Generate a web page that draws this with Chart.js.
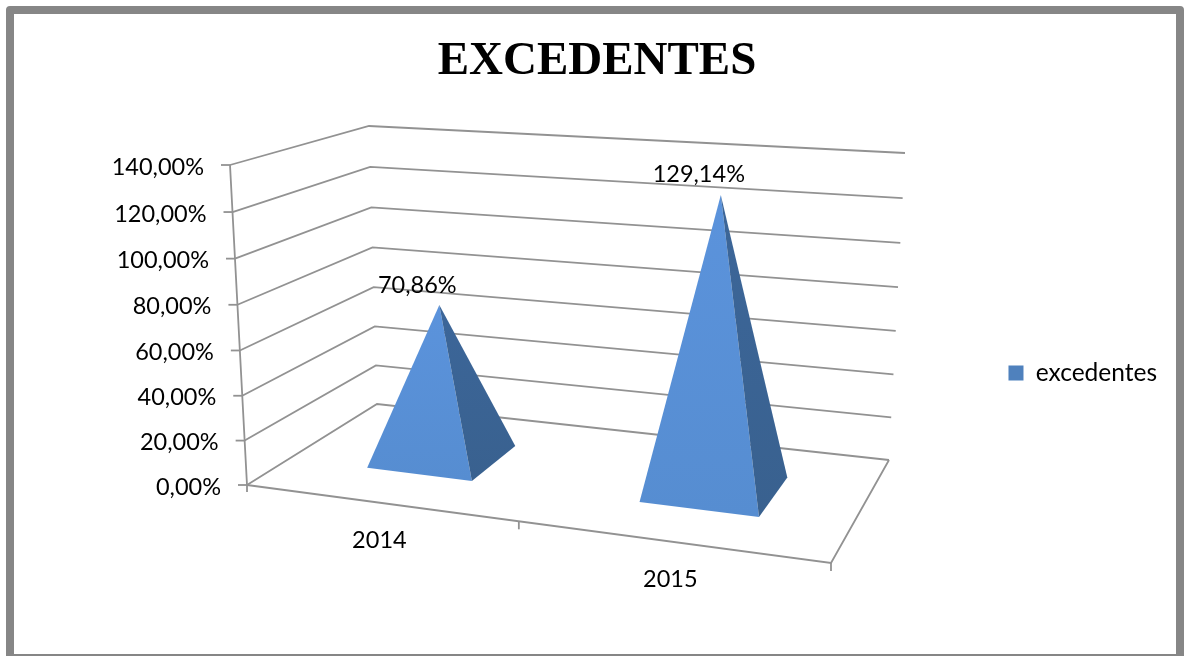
<!DOCTYPE html>
<html>
<head>
<meta charset="utf-8">
<style>
html,body{margin:0;padding:0;background:#fff}
#wrap{width:1184px;height:656px;position:relative}
</style>
</head>
<body>
<div id="wrap"><canvas id="chart"></canvas></div>
<script src="https://cdn.jsdelivr.net/npm/chart.js@4/dist/chart.umd.js"></script>
<script>
const categories=["2014","2015"]
const seriesName="excedentes"
const values=[70.86,129.14]
const valueLabels=["70,86%","129,14%"]
const tickLabels=["0,00%","20,00%","40,00%","60,00%","80,00%","100,00%","120,00%","140,00%"]

const FONT="Lato"
const LABEL_FONT="23.5px "+FONT
const LINE="#929292"

// corners of the 3d box on screen: floor and top, front-left/front-right/back-right/back-left
const floorQuad=[[247,485],[831,563],[889,460],[377,404]]
const topQuad=[[230,165],[870,214],[905,153],[369,126]]

function quadMap(q){
const [x0,y0]=q[0],[x1,y1]=q[1],[x2,y2]=q[2],[x3,y3]=q[3]
const dx1=x1-x2,dx2=x3-x2,sx=x0-x1+x2-x3
const dy1=y1-y2,dy2=y3-y2,sy=y0-y1+y2-y3
const den=dx1*dy2-dx2*dy1
const g=(sx*dy2-dx2*sy)/den,h=(dx1*sy-sx*dy1)/den
const a=x1-x0+g*x1,b=x3-x0+h*x3,d=y1-y0+g*y1,e=y3-y0+h*y3
return (u,w)=>{
const k=g*u+h*w+1
return [(a*u+b*w+x0)/k,(d*u+e*w+y0)/k]
}
}
const floorAt=quadMap(floorQuad)
const topAt=quadMap(topQuad)

// u along categories, w into the depth, t height 0..1
function project(u,w,t){
const f=floorAt(u,w),p=topAt(u,w)
const s=0.967*t/(1-0.033*t)
return [f[0]+(p[0]-f[0])*s,f[1]+(p[1]-f[1])*s]
}

function path(ctx,pts,color){
ctx.beginPath()
pts.forEach((p,i)=>i?ctx.lineTo(p[0],p[1]):ctx.moveTo(p[0],p[1]))
ctx.closePath()
ctx.fillStyle=color
ctx.fill()
}

function polyline(ctx,pts){
ctx.beginPath()
pts.forEach((p,i)=>i?ctx.lineTo(p[0],p[1]):ctx.moveTo(p[0],p[1]))
ctx.stroke()
}

const box3d={
id:"box3d",
afterLayout(chart){
// legend sits lower than the centre of the page in the original
const l=chart.legend
const shift=373-(l.top+l.bottom)/2
l.top+=shift
l.bottom+=shift
},
beforeDraw(chart){
const ctx=chart.ctx
ctx.save()
ctx.strokeStyle="#868686"
ctx.lineWidth=8
ctx.lineJoin="round"
ctx.strokeRect(10,10,1170,700)
ctx.lineWidth=2
ctx.beginPath()
ctx.moveTo(6,655)
ctx.lineTo(1184,655)
ctx.stroke()
ctx.restore()
},
beforeDatasetsDraw(chart){
const ctx=chart.ctx,xs=chart.scales.x,ys=chart.scales.y
const norm=v=>(ys.bottom-ys.getPixelForValue(v))/ys.height
ctx.save()

// walls and floor
ctx.strokeStyle=LINE
ctx.lineWidth=1.8
ctx.font=LABEL_FONT
ctx.textBaseline="middle"
ys.ticks.forEach(t=>{
const h=norm(t.value)
const a=project(0,0,h)
polyline(ctx,[a,project(0,1,h),project(1,1,h)])
polyline(ctx,[[a[0]-9,a[1]],a])
ctx.fillStyle="#000"
ctx.textAlign="right"
ctx.fillText(t.label,a[0]-26,a[1]+2)
})
const origin=project(0,0,0)
polyline(ctx,[project(0,0,1),origin,[origin[0],origin[1]+7]])
polyline(ctx,[origin,project(1,0,0),project(1,1,0)])
const mid=project(0.5,0,0),end=project(1,0,0)
polyline(ctx,[mid,[mid[0],mid[1]+8]])
polyline(ctx,[end,[end[0],end[1]+8]])

// category labels under the front edge
ctx.fillStyle="#000"
ctx.textAlign="center"
xs.ticks.forEach((t,i)=>{
const u=(xs.getPixelForValue(i)-xs.left)/xs.width
const p=project(u,0,0)
ctx.fillText(xs.getLabelForValue(t.value),p[0]+1,p[1]+38)
})

// pyramids, one per data point
const meta=chart.getDatasetMeta(0)
meta.data.forEach((bar,i)=>{
const u=(bar.x-xs.left)/xs.width+0.004
const hw=bar.width/xs.width/2
const hd=0.2
const h=norm(values[i])
const tip=project(u+0.01,0.5,h)
const fl=project(u-hw,0.5-hd,0),fr=project(u+hw,0.5-hd,0),br=project(u+hw,0.5+hd,0)
let g=ctx.createLinearGradient(0,tip[1],0,fr[1])
g.addColorStop(0,"#5b93dc")
g.addColorStop(1,"#568dd1")
path(ctx,[tip,fl,fr],g)
g=ctx.createLinearGradient(0,tip[1],0,fr[1])
g.addColorStop(0,"#3c6699")
g.addColorStop(1,"#39618f")
path(ctx,[tip,fr,br],g)
ctx.fillStyle="#000"
ctx.textAlign="center"
ctx.fillText(valueLabels[i],tip[0]-22,tip[1]-20)
})

ctx.restore()
return false
}
}

new Chart(document.getElementById("chart"),{
type:"bar",
data:{
labels:categories,
datasets:[{
label:seriesName,
data:values,
backgroundColor:"#4f81bd",
borderWidth:0,
barPercentage:0.4,
categoryPercentage:1
}]
},
options:{
responsive:true,
maintainAspectRatio:false,
animation:false,
layout:{padding:{left:27,right:17,top:0,bottom:0}},
scales:{
x:{display:false},
y:{display:false,min:0,max:140,ticks:{stepSize:20,callback:(v,i)=>tickLabels[i]}}
},
plugins:{
tooltip:{enabled:false},
title:{
display:true,
text:"EXCEDENTES",
color:"#000",
font:{family:"Liberation Serif",size:47,weight:"bold"},
padding:{top:34,bottom:16}
},
legend:{
position:"right",
labels:{
color:"#000",
font:{family:FONT,size:24.5},
boxWidth:15,
boxHeight:15
}
}
}
},
plugins:[box3d]
})
</script>
</body>
</html>
